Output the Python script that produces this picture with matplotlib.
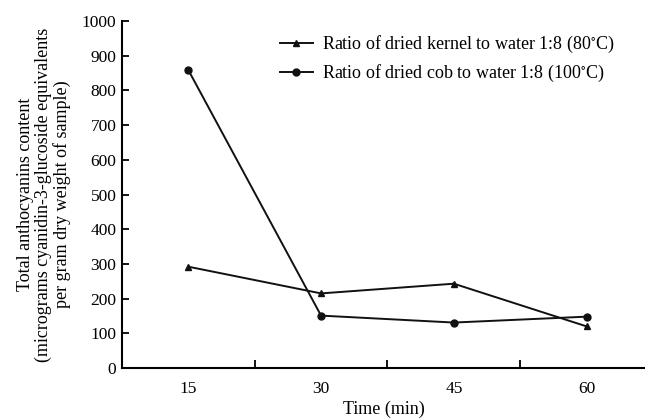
import matplotlib
matplotlib.use("Agg")
import matplotlib.pyplot as plt

# values
times = [15, 30, 45, 60]
kernel = [292, 215, 243, 120]
cob = [859, 151, 131, 148]
kernel_label = "Ratio of dried kernel to water 1:8 (80$^{\\circ}$C)"
cob_label = "Ratio of dried cob to water 1:8 (100$^{\\circ}$C)"
y_ticks = list(range(0, 1001, 100))
x_bounds = [22.5, 37.5, 52.5]

plt.rcParams['font.family'] = ['Liberation Serif', 'DejaVu Serif']
plt.rcParams['mathtext.fontset'] = 'stix'

fig = plt.figure(figsize=(6.45, 4.18), dpi=100)
ax = fig.add_axes([0.189, 0.1196, 0.811, 0.8301])

ax.plot(times, kernel, color='#111111', lw=1.4, marker='^', ms=5, label=kernel_label)
ax.plot(times, cob, color='#111111', lw=1.4, marker='o', ms=5, label=cob_label)

ax.set_xlim(7.5, 66.6)
ax.set_ylim(0, 1000)
ax.set_yticks(y_ticks)

# ticks sit between the time labels
ax.set_xticks(x_bounds)
ax.set_xticklabels([])
ax.set_xticks(times, minor=True)
ax.set_xticklabels([str(t) for t in times], minor=True)
ax.tick_params(axis='x', which='minor', length=0, pad=9, labelsize=12.5)
ax.tick_params(axis='x', which='major', direction='in', length=6, width=1.3)
ax.tick_params(axis='y', direction='in', length=5, width=1.3, labelsize=12.5, pad=4)

for s in ['top', 'right']:
    ax.spines[s].set_visible(False)
for s in ['left', 'bottom']:
    ax.spines[s].set_linewidth(1.5)

ax.set_xlabel("Time (min)", fontsize=13, labelpad=3)
ax.set_ylabel("Total anthocyanins content\n(micrograms cyanidin-3-glucoside equivalents\nper gram dry weight of sample)",
              fontsize=13, linespacing=1.05, labelpad=8)

ax.legend(loc='upper left', bbox_to_anchor=(280 / 645, 1 - 34 / 418), bbox_transform=fig.transFigure,
          frameon=False, fontsize=13, borderpad=0, borderaxespad=0,
          handlelength=1.8, handletextpad=0.5, labelspacing=0.45)

fig.savefig("out.png", dpi=100)
